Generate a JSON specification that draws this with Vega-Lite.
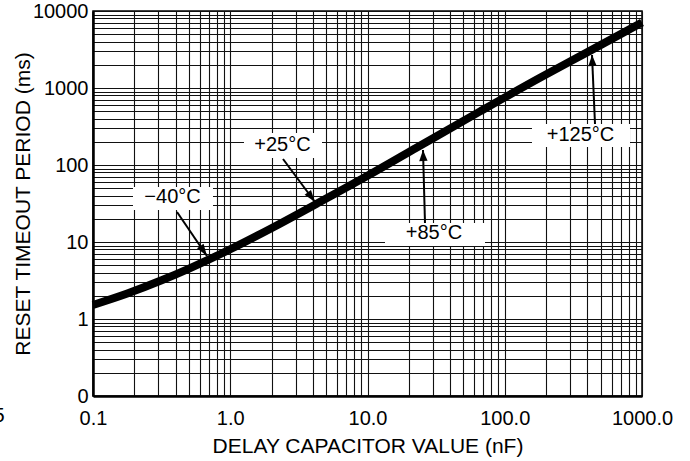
{
  "$schema": "https://vega.github.io/schema/vega-lite/v6.json",
  "width": 549,
  "height": 385,
  "autosize": "none",
  "padding": {"left": 93, "top": 11, "right": 48, "bottom": 65},
  "background": "white",
  "config": {
    "font": "Liberation Sans",
    "view": {"stroke": "black", "strokeWidth": 1.5},
    "axis": {
      "grid": true,
      "gridColor": "#111111",
      "gridWidth": 1.1,
      "gridOpacity": 1,
      "ticks": false,
      "labelFont": "Liberation Sans",
      "labelFontSize": 20,
      "labelColor": "black",
      "titleFont": "Liberation Sans",
      "titleFontSize": 21,
      "titleFontWeight": "normal",
      "titleColor": "black",
      "domainColor": "black",
      "domainWidth": 2.5,
      "labelOverlap": false,
      "labelFlush": false,
      "labelBound": false
    }
  },
  "datasets": {
    "curve": [
      {"x": 0.1, "y": 1.52},
      {"x": 0.1778, "y": 2.14},
      {"x": 0.3162, "y": 3.18},
      {"x": 0.5012, "y": 4.52},
      {"x": 1, "y": 8.05},
      {"x": 1.995, "y": 15.1},
      {"x": 4.266, "y": 31.4},
      {"x": 10, "y": 72.4},
      {"x": 22.9, "y": 168.7},
      {"x": 66.1, "y": 497},
      {"x": 182, "y": 1368},
      {"x": 417, "y": 3034},
      {"x": 1000, "y": 7096}
    ],
    "boxes": [
      {"label": "−40°C", "left": 0.1956, "right": 0.7487, "bottom": 26.04, "top": 51.8, "x": 0.3796, "y": 37.84},
      {"label": "+25°C", "left": 1.2593, "right": 4.661, "bottom": 123.3, "top": 260.4, "x": 2.403, "y": 181.8},
      {"label": "+85°C", "left": 13.41, "right": 71.8, "bottom": 8.874, "top": 17.65, "x": 30.52, "y": 13.09},
      {"label": "+125°C", "left": 157.9, "right": 817.8, "bottom": 171.3, "top": 340.8, "x": 356.3, "y": 245.2}
    ],
    "arrows": [
      {"label": "−40°C", "pt": "start", "x": 0.4094, "y": 24.53},
      {"label": "−40°C", "pt": "tip", "x": 0.6769, "y": 6.579},
      {"label": "+25°C", "pt": "start", "x": 2.4234, "y": 119.7},
      {"label": "+25°C", "pt": "tip", "x": 4.145, "y": 33.07},
      {"label": "+85°C", "pt": "start", "x": 26.24, "y": 17.65},
      {"label": "+85°C", "pt": "tip", "x": 25.37, "y": 156.6},
      {"label": "+125°C", "pt": "start", "x": 454.6, "y": 340.8},
      {"label": "+125°C", "pt": "tip", "x": 432.2, "y": 2683}
    ],
    "stray": [
      {"x": 0.02266, "y": 0.046, "t": "5"}
    ]
  },
  "encoding": {
    "x": {
      "field": "x",
      "type": "quantitative",
      "title": "DELAY CAPACITOR VALUE (nF)",
      "scale": {"type": "log", "domain": [0.1, 1000], "nice": false},
      "axis": {
        "values": [0.1, 0.2, 0.3, 0.4, 0.5, 0.6, 0.7, 0.8, 0.9, 1, 2, 3, 4, 5, 6, 7, 8, 9, 10, 20, 30, 40, 50, 60, 70, 80, 90, 100, 200, 300, 400, 500, 600, 700, 800, 900, 1000],
        "labelExpr": "abs(log(datum.value)/LN10 - round(log(datum.value)/LN10)) < 0.001 ? format(datum.value, '.1f') : ''",
        "labelPadding": 12,
        "titlePadding": 7
      }
    },
    "y": {
      "field": "y",
      "type": "quantitative",
      "title": "RESET TIMEOUT PERIOD (ms)",
      "scale": {"type": "log", "domain": [0.1, 10000], "nice": false},
      "axis": {
        "values": [0.1, 0.2, 0.3, 0.4, 0.5, 0.6, 0.7, 0.8, 0.9, 1, 2, 3, 4, 5, 6, 7, 8, 9, 10, 20, 30, 40, 50, 60, 70, 80, 90, 100, 200, 300, 400, 500, 600, 700, 800, 900, 1000, 2000, 3000, 4000, 5000, 6000, 7000, 8000, 9000, 10000],
        "labelExpr": "abs(log(datum.value)/LN10 - round(log(datum.value)/LN10)) < 0.001 ? format(datum.value, '.0f') : ''",
        "labelPadding": 5,
        "titlePadding": 3,
        "titleBaseline": "alphabetic"
      }
    }
  },
  "layer": [
    {
      "data": {"name": "boxes"},
      "mark": {"type": "rect", "fill": "white", "strokeWidth": 0},
      "encoding": {
        "x": {"field": "left", "type": "quantitative", "title": "DELAY CAPACITOR VALUE (nF)", "scale": {"type": "log", "domain": [0.1, 1000], "nice": false}},
        "x2": {"field": "right"},
        "y": {"field": "bottom", "type": "quantitative", "title": "RESET TIMEOUT PERIOD (ms)", "scale": {"type": "log", "domain": [0.1, 10000], "nice": false}},
        "y2": {"field": "top"}
      }
    },
    {
      "data": {"name": "curve"},
      "mark": {"type": "line", "color": "black", "strokeWidth": 8, "strokeCap": "butt", "interpolate": "monotone"}
    },
    {
      "data": {"name": "arrows"},
      "mark": {"type": "line", "color": "black", "strokeWidth": 2},
      "encoding": {"detail": {"field": "label"}}
    },
    {
      "data": {"name": "arrows"},
      "transform": [{"filter": "datum.label == '−40°C' && datum.pt == 'tip'"}],
      "mark": {"type": "point", "shape": "M0,0L-0.33,1L0.33,1Z", "filled": true, "color": "black", "opacity": 1, "size": 576, "angle": 146}
    },
    {
      "data": {"name": "arrows"},
      "transform": [{"filter": "datum.label == '+25°C' && datum.pt == 'tip'"}],
      "mark": {"type": "point", "shape": "M0,0L-0.33,1L0.33,1Z", "filled": true, "color": "black", "opacity": 1, "size": 576, "angle": 143}
    },
    {
      "data": {"name": "arrows"},
      "transform": [{"filter": "datum.label == '+85°C' && datum.pt == 'tip'"}],
      "mark": {"type": "point", "shape": "M0,0L-0.38,1L0.38,1Z", "filled": true, "color": "black", "opacity": 1, "size": 484, "angle": -2}
    },
    {
      "data": {"name": "arrows"},
      "transform": [{"filter": "datum.label == '+125°C' && datum.pt == 'tip'"}],
      "mark": {"type": "point", "shape": "M0,0L-0.38,1L0.38,1Z", "filled": true, "color": "black", "opacity": 1, "size": 484, "angle": -2.5}
    },
    {
      "data": {"name": "boxes"},
      "mark": {"type": "text", "fontSize": 20, "baseline": "middle", "align": "center", "color": "black", "font": "Liberation Sans"},
      "encoding": {"text": {"field": "label"}}
    },
    {
      "data": {"name": "stray"},
      "mark": {"type": "text", "fontSize": 20, "baseline": "alphabetic", "align": "right", "color": "black", "font": "Liberation Sans"},
      "encoding": {"text": {"field": "t"}}
    }
  ]
}
